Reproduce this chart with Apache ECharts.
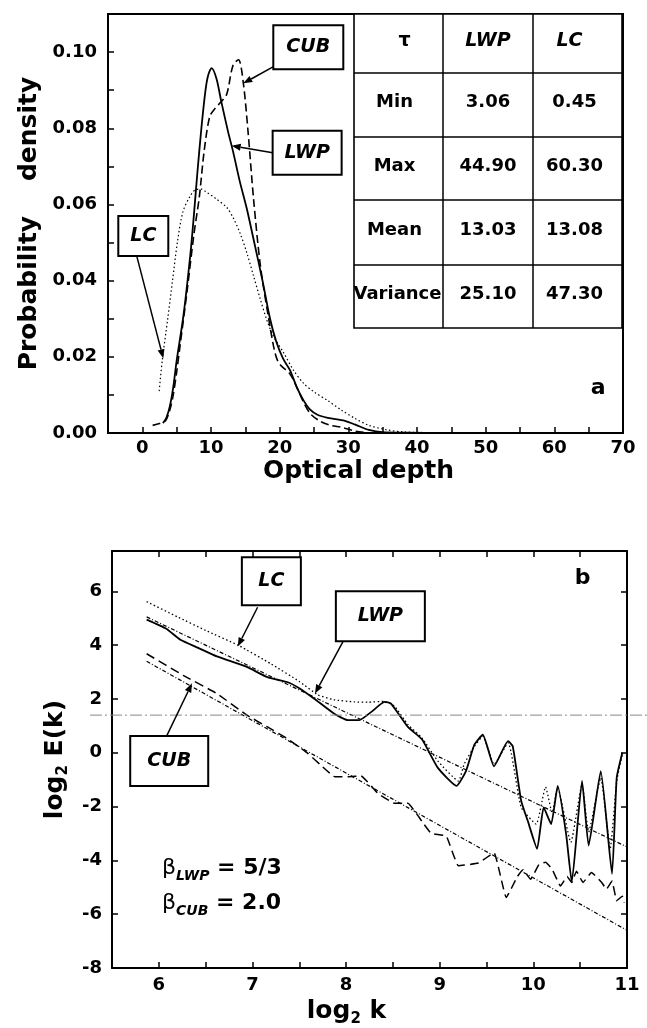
<!DOCTYPE html>
<html><head><meta charset="utf-8">
<script src="https://cdn.jsdelivr.net/npm/echarts@6/dist/echarts.min.js"></script>
<style>html,body{margin:0;padding:0;background:#fff}#c{width:647px;height:1028px}</style>
</head><body><div id="c"></div>
<script>
// ---------- Panel a: probability density of optical depth ----------
const lwpTau = [3.0,3.5,4.0,4.5,5.0,6.0,7.0,7.5,8.0,8.6,9.2,9.6,10.1,10.8,11.5,12.5,13.2,14.2,15.2,16.3,17.5,18.6,19.5,20.5,21.5,22.5,23.5,24.4,25.5,27.0,29.5,31.0,33.0,35.0,38.0,45.0];
const lwpPdf = [0.0026,0.004,0.007,0.012,0.019,0.031,0.047,0.057,0.068,0.080,0.090,0.094,0.0958,0.093,0.087,0.079,0.074,0.066,0.059,0.050,0.040,0.030,0.024,0.0195,0.0165,0.012,0.0085,0.0062,0.0048,0.0040,0.0032,0.0022,0.0008,0.0002,0.0001,0.0];
const cubTau = [1.5,2.5,3.4,4.0,4.5,5.0,5.5,6.5,7.5,8.3,9.0,9.8,10.5,11.5,12.3,13.2,14.0,14.7,15.4,16.2,17.2,18.4,19.2,19.7,20.3,21.5,22.5,23.5,24.5,26.0,27.5,29.0,31.0,33.0];
const cubPdf = [0.002,0.0025,0.0033,0.006,0.010,0.016,0.023,0.037,0.052,0.062,0.074,0.083,0.085,0.087,0.089,0.0965,0.098,0.092,0.079,0.0614,0.0438,0.030,0.022,0.019,0.0175,0.0155,0.012,0.008,0.005,0.003,0.002,0.0015,0.0005,0.0];
const lcTau = [2.45,2.9,3.7,4.4,5.1,5.9,6.9,7.8,8.6,9.3,10.8,12.3,13.2,14.2,15.2,16.2,17.2,18.1,19.1,20.6,22.0,23.5,25.0,27.0,29.0,31.0,33.0,35.7,38.0,42.0,50.0];
const lcPdf = [0.011,0.019,0.030,0.040,0.050,0.058,0.062,0.0639,0.064,0.0633,0.0614,0.0592,0.0566,0.0526,0.0474,0.0412,0.035,0.0298,0.0254,0.021,0.0165,0.013,0.0108,0.0085,0.006,0.0038,0.002,0.0008,0.0003,0.0001,0.0];

// table of statistics
const tableHeader = ['τ','LWP','LC'];
const tableRows = ['Min','Max','Mean','Variance'];
const tableLWP = ['3.06','44.90','13.03','25.10'];
const tableLC = ['0.45','60.30','13.08','47.30'];

// ---------- Panel b: spectra ----------
const lwpK = [5.87,6.08,6.23,6.42,6.62,6.94,7.16,7.37,7.5,7.66,7.87,8.02,8.14,8.27,8.41,8.48,8.66,8.81,8.98,9.18,9.28,9.37,9.46,9.58,9.73,9.78,9.87,9.94,10.04,10.11,10.19,10.26,10.35,10.41,10.52,10.59,10.72,10.84,10.89,10.95];
const lwpE = [4.95,4.61,4.2,3.9,3.58,3.19,2.81,2.63,2.4,2.01,1.46,1.21,1.21,1.52,1.89,1.83,0.96,0.5,-0.56,-1.23,-0.68,0.30,0.67,-0.50,0.43,0.24,-1.79,-2.53,-3.57,-2.03,-2.65,-1.23,-3.02,-4.80,-1.05,-3.45,-0.68,-4.5,-0.93,0.0];
const lcK = [5.87,6.2,6.5,6.85,7.2,7.5,7.7,7.87,8.09,8.23,8.41,8.52,8.66,8.81,8.98,9.2,9.26,9.37,9.46,9.58,9.73,9.87,10.03,10.13,10.2,10.26,10.40,10.52,10.59,10.72,10.82,10.89,10.95];
const lcE = [5.62,5.05,4.55,3.99,3.3,2.65,2.15,1.97,1.89,1.88,1.91,1.72,1.05,0.55,-0.31,-1.05,-0.43,0.24,0.61,-0.43,0.37,-2.03,-2.65,-1.27,-2.22,-1.30,-3.33,-1.17,-2.95,-0.93,-3.57,-1.05,-0.06];
const cubK = [5.87,6.26,6.62,6.94,7.16,7.37,7.59,7.73,7.88,8.02,8.16,8.34,8.52,8.66,8.75,8.81,8.91,9.07,9.2,9.41,9.58,9.71,9.83,9.89,9.97,10.06,10.13,10.2,10.29,10.36,10.41,10.46,10.53,10.62,10.73,10.78,10.84,10.89,10.95,10.97];
const cubE = [3.68,2.88,2.2,1.40,0.96,0.53,-0.02,-0.46,-0.89,-0.89,-0.86,-1.51,-1.88,-1.88,-2.25,-2.55,-3.0,-3.1,-4.2,-4.1,-3.72,-5.38,-4.6,-4.35,-4.7,-4.15,-4.07,-4.33,-4.95,-4.6,-4.82,-4.4,-4.82,-4.45,-4.82,-5.07,-4.77,-5.5,-5.33,-5.57];
const fitLwpK = [5.87, 11.0];
const fitLwpE = [5.05, -3.5];
const fitCubK = [5.87, 11.0];
const fitCubE = [3.4, -6.6];
const refLevel = 1.4;

const FONT = 'DejaVu Sans';
const zip = (xs, ys) => xs.map((x, i) => [x, ys[i]]);

const axisLine = {show: true, onZero: false, lineStyle: {color: '#000', width: 2}};
const axisTick = {show: true, inside: true, length: 6, lineStyle: {color: '#000', width: 1.5}};
const labelStyle = {color: '#000', fontFamily: FONT, fontWeight: 'bold', fontSize: 18};
const subRich = {
  a: {fontFamily: FONT, fontWeight: 'bold', fontSize: 25, color: '#000', lineHeight: 32},
  s: {fontFamily: FONT, fontWeight: 'bold', fontSize: 15, color: '#000', verticalAlign: 'bottom'}
};

const chart = echarts.init(document.getElementById('c'), null, {renderer: 'canvas', width: 647, height: 1028});

const option = {
  animation: false,
  backgroundColor: '#fff',
  grid: [
    {left: 108, top: 14, width: 515, height: 419, show: true, borderColor: '#000', borderWidth: 2, backgroundColor: 'transparent'},
    {left: 112, top: 551, width: 515, height: 419}
  ],
  xAxis: [
    {type: 'value', gridIndex: 0, min: -5, max: 70, interval: 5, axisLine, axisTick, splitLine: {show: false},
     axisLabel: Object.assign({margin: 6, formatter: v => (Math.round(v) % 10 === 0 ? String(Math.round(v)) : '')}, labelStyle),
     name: 'Optical depth', nameLocation: 'middle', nameGap: 26,
     nameTextStyle: {color: '#000', fontFamily: FONT, fontWeight: 'bold', fontSize: 25, padding: [0, 14, 0, 0]}},
    {type: 'value', gridIndex: 1, min: 5.5, max: 11, interval: 0.5, axisLine, axisTick, splitLine: {show: false},
     axisLabel: Object.assign({margin: 8, formatter: v => (Math.abs(v - Math.round(v)) < 1e-6 ? String(Math.round(v)) : '')}, labelStyle),
     name: '{a|log}{s|2}{a| k}', nameLocation: 'middle', nameGap: 27,
     nameTextStyle: {color: '#000', fontFamily: FONT, fontSize: 25, padding: [0, 46, 0, 0], rich: subRich}},
    {type: 'value', gridIndex: 1, position: 'top', min: 5.5, max: 11, interval: 0.5, axisLine, axisTick,
     splitLine: {show: false}, axisLabel: {show: false}}
  ],
  yAxis: [
    {type: 'value', gridIndex: 0, min: 0, max: 0.11, interval: 0.01, axisLine, axisTick, splitLine: {show: false},
     axisLabel: Object.assign({margin: 11, showMaxLabel: false, formatter: v => (Math.round(v * 100) % 2 === 0 ? v.toFixed(2) : '')}, labelStyle),
     name: 'Probability    density', nameLocation: 'middle', nameGap: 64,
     nameTextStyle: {color: '#000', fontFamily: FONT, fontWeight: 'bold', fontSize: 25}},
    {type: 'value', gridIndex: 1, min: -8, max: 7.5, interval: 2, axisLine, axisTick, splitLine: {show: false},
     axisLabel: Object.assign({margin: 10, showMaxLabel: false, formatter: v => String(v)}, labelStyle),
     name: '{a|log}{s|2}{a| E(k)}', nameLocation: 'middle', nameGap: 40,
     nameTextStyle: {color: '#000', fontFamily: FONT, fontSize: 25, rich: subRich}},
    {type: 'value', gridIndex: 1, position: 'right', min: -8, max: 7.5, interval: 2, axisLine, axisTick,
     splitLine: {show: false}, axisLabel: {show: false}}
  ],
  series: [
    {name: 'LWP', type: 'line', xAxisIndex: 0, yAxisIndex: 0, data: zip(lwpTau, lwpPdf), showSymbol: false, smooth: 0.3,
     lineStyle: {color: '#000', width: 1.8, type: 'solid'}},
    {name: 'CUB', type: 'line', xAxisIndex: 0, yAxisIndex: 0, data: zip(cubTau, cubPdf), showSymbol: false, smooth: 0.3,
     lineStyle: {color: '#000', width: 1.6, type: [8, 4]}},
    {name: 'LC', type: 'line', xAxisIndex: 0, yAxisIndex: 0, data: zip(lcTau, lcPdf), showSymbol: false, smooth: 0.3,
     lineStyle: {color: '#000', width: 1.2, type: [1.5, 2.5]}},

    {name: 'LWP spectrum', type: 'line', xAxisIndex: 1, yAxisIndex: 1, data: zip(lwpK, lwpE), showSymbol: false, smooth: 0.15,
     lineStyle: {color: '#000', width: 1.8, type: 'solid'}},
    {name: 'LC spectrum', type: 'line', xAxisIndex: 1, yAxisIndex: 1, data: zip(lcK, lcE), showSymbol: false, smooth: 0.15,
     lineStyle: {color: '#000', width: 1.3, type: [1.5, 2.5]}},
    {name: 'CUB spectrum', type: 'line', xAxisIndex: 1, yAxisIndex: 1, data: zip(cubK, cubE), showSymbol: false, smooth: 0.1,
     lineStyle: {color: '#000', width: 1.5, type: [9, 5]}},
    {name: 'LWP fit', type: 'line', xAxisIndex: 1, yAxisIndex: 1, data: zip(fitLwpK, fitLwpE), showSymbol: false,
     lineStyle: {color: '#000', width: 1.2, type: [4, 2, 1, 2]}},
    {name: 'CUB fit', type: 'line', xAxisIndex: 1, yAxisIndex: 1, data: zip(fitCubK, fitCubE), showSymbol: false,
     lineStyle: {color: '#000', width: 1.2, type: [4, 2, 1, 2]}}
  ]
};
chart.setOption(option);

// ---------- annotations ----------
const pa = p => chart.convertToPixel({xAxisIndex: 0, yAxisIndex: 0}, p);
const pb = p => chart.convertToPixel({xAxisIndex: 1, yAxisIndex: 1}, p);

const calloutsA = [
  {text: 'CUB', box: [24.17, 0.1013], w: 70, h: 44, from: [19.03, 0.0961], to: [14.70, 0.0918]},
  {text: 'LWP', box: [24.0, 0.0736], w: 69, h: 44, from: [18.98, 0.0736], to: [13.01, 0.0754]},
  {text: 'LC', box: [0.14, 0.0517], w: 50, h: 40, from: [-0.82, 0.0465], to: [3.05, 0.0196]}
];
const calloutsB = [
  {text: 'LC', box: [7.202, 6.372], w: 59, h: 48, from: [7.055, 5.41], to: [6.843, 3.95]},
  {text: 'LWP', box: [8.366, 5.077], w: 89, h: 50, from: [7.971, 4.156], to: [7.668, 2.2]},
  {text: 'CUB', box: [6.111, -0.305], w: 78, h: 50, from: [6.083, 0.619], to: [6.354, 2.58]}
];

const g = [];
function arrow(p0, p1) {
  const dx = p1[0] - p0[0], dy = p1[1] - p0[1];
  const L = Math.hypot(dx, dy), ux = dx / L, uy = dy / L;
  const hl = 9, hw = 3.5;
  const bx = p1[0] - ux * hl, by = p1[1] - uy * hl;
  g.push({type: 'line', z: 50, shape: {x1: p0[0], y1: p0[1], x2: bx, y2: by}, style: {stroke: '#000', lineWidth: 1.5}});
  g.push({type: 'polygon', z: 50, shape: {points: [[p1[0], p1[1]], [bx - uy * hw, by + ux * hw], [bx + uy * hw, by - ux * hw]]},
          style: {fill: '#000'}});
}
function callout(c, conv) {
  const c0 = conv(c.box);
  g.push({type: 'rect', z: 60, shape: {x: c0[0] - c.w / 2, y: c0[1] - c.h / 2, width: c.w, height: c.h},
          style: {fill: '#fff', stroke: '#000', lineWidth: 2}});
  g.push({type: 'text', z: 61, x: c0[0], y: c0[1],
          style: {text: c.text, font: 'italic bold 19px "DejaVu Sans"', fill: '#000', align: 'center', verticalAlign: 'middle'}});
  arrow(conv(c.from), conv(c.to));
}
calloutsA.forEach(c => callout(c, pa));
calloutsB.forEach(c => callout(c, pb));

// statistics table (top-right of panel a)
const colX = [354, 443, 533, 622];
const rowY = [14, 73, 137, 200, 265, 328];
g.push({type: 'rect', z: 40, shape: {x: colX[0], y: rowY[0], width: colX[3] - colX[0], height: rowY[5] - rowY[0]},
        style: {fill: '#fff', stroke: '#000', lineWidth: 1.6}});
for (let i = 1; i < rowY.length - 1; i++)
  g.push({type: 'line', z: 41, shape: {x1: colX[0], y1: rowY[i], x2: colX[3], y2: rowY[i]}, style: {stroke: '#000', lineWidth: 1.5}});
for (let j = 1; j < colX.length - 1; j++)
  g.push({type: 'line', z: 41, shape: {x1: colX[j], y1: rowY[0], x2: colX[j], y2: rowY[5]}, style: {stroke: '#000', lineWidth: 1.5}});
const cellText = (txt, col, row, font, dx) => {
  g.push({type: 'text', z: 42, x: (colX[col] + colX[col + 1]) / 2 + (dx || 0), y: rowY[row] + (rowY[row + 1] - rowY[row]) * 0.46,
          style: {text: txt, font: font, fill: '#000', align: 'center', verticalAlign: 'middle'}});
};
cellText(tableHeader[0], 0, 0, 'bold 19px "DejaVu Sans"', 6);
cellText(tableHeader[1], 1, 0, 'italic bold 19px "DejaVu Sans"');
cellText(tableHeader[2], 2, 0, 'italic bold 19px "DejaVu Sans"', -8);
tableRows.forEach((r, i) => {
  cellText(r, 0, i + 1, 'bold 18px "DejaVu Sans"', i === 3 ? -1 : -4);
  cellText(tableLWP[i], 1, i + 1, 'bold 18px "DejaVu Sans"');
  cellText(tableLC[i], 2, i + 1, 'bold 18px "DejaVu Sans"', -3);
});

// panel letters
const la = pa([66.4, 0.0118]);
g.push({type: 'text', z: 42, x: la[0], y: la[1], style: {text: 'a', font: 'bold 22px "DejaVu Sans"', fill: '#000', align: 'center', verticalAlign: 'middle'}});
const lb = pb([10.525, 6.5]);
g.push({type: 'text', z: 42, x: lb[0], y: lb[1], style: {text: 'b', font: 'bold 22px "DejaVu Sans"', fill: '#000', align: 'center', verticalAlign: 'middle'}});

// beta labels
const betaRich = {
  b: {fontFamily: FONT, fontSize: 22, color: '#000', lineHeight: 30},
  s: {fontFamily: FONT, fontSize: 14, fontStyle: 'italic', fontWeight: 'bold', color: '#000', verticalAlign: 'bottom'},
  t: {fontFamily: FONT, fontSize: 22, fontWeight: 'bold', color: '#000', lineHeight: 30}
};
const b1 = pb([6.034, -4.3]);
g.push({type: 'text', z: 42, x: b1[0], y: b1[1], style: {text: '{b|β}{s|LWP}{t| = 5/3}', rich: betaRich, align: 'left', verticalAlign: 'middle'}});
const b2 = pb([6.034, -5.6]);
g.push({type: 'text', z: 42, x: b2[0], y: b2[1], style: {text: '{b|β}{s|CUB}{t| = 2.0}', rich: betaRich, align: 'left', verticalAlign: 'middle'}});

// thin horizontal reference line crossing panel b
const hy = pb([8, refLevel])[1];
g.push({type: 'line', z: 5, shape: {x1: 90, y1: hy, x2: 647, y2: hy}, style: {stroke: '#888', lineWidth: 1, lineDash: [12, 3, 2, 3]}});

chart.setOption({graphic: g});
</script></body></html>
